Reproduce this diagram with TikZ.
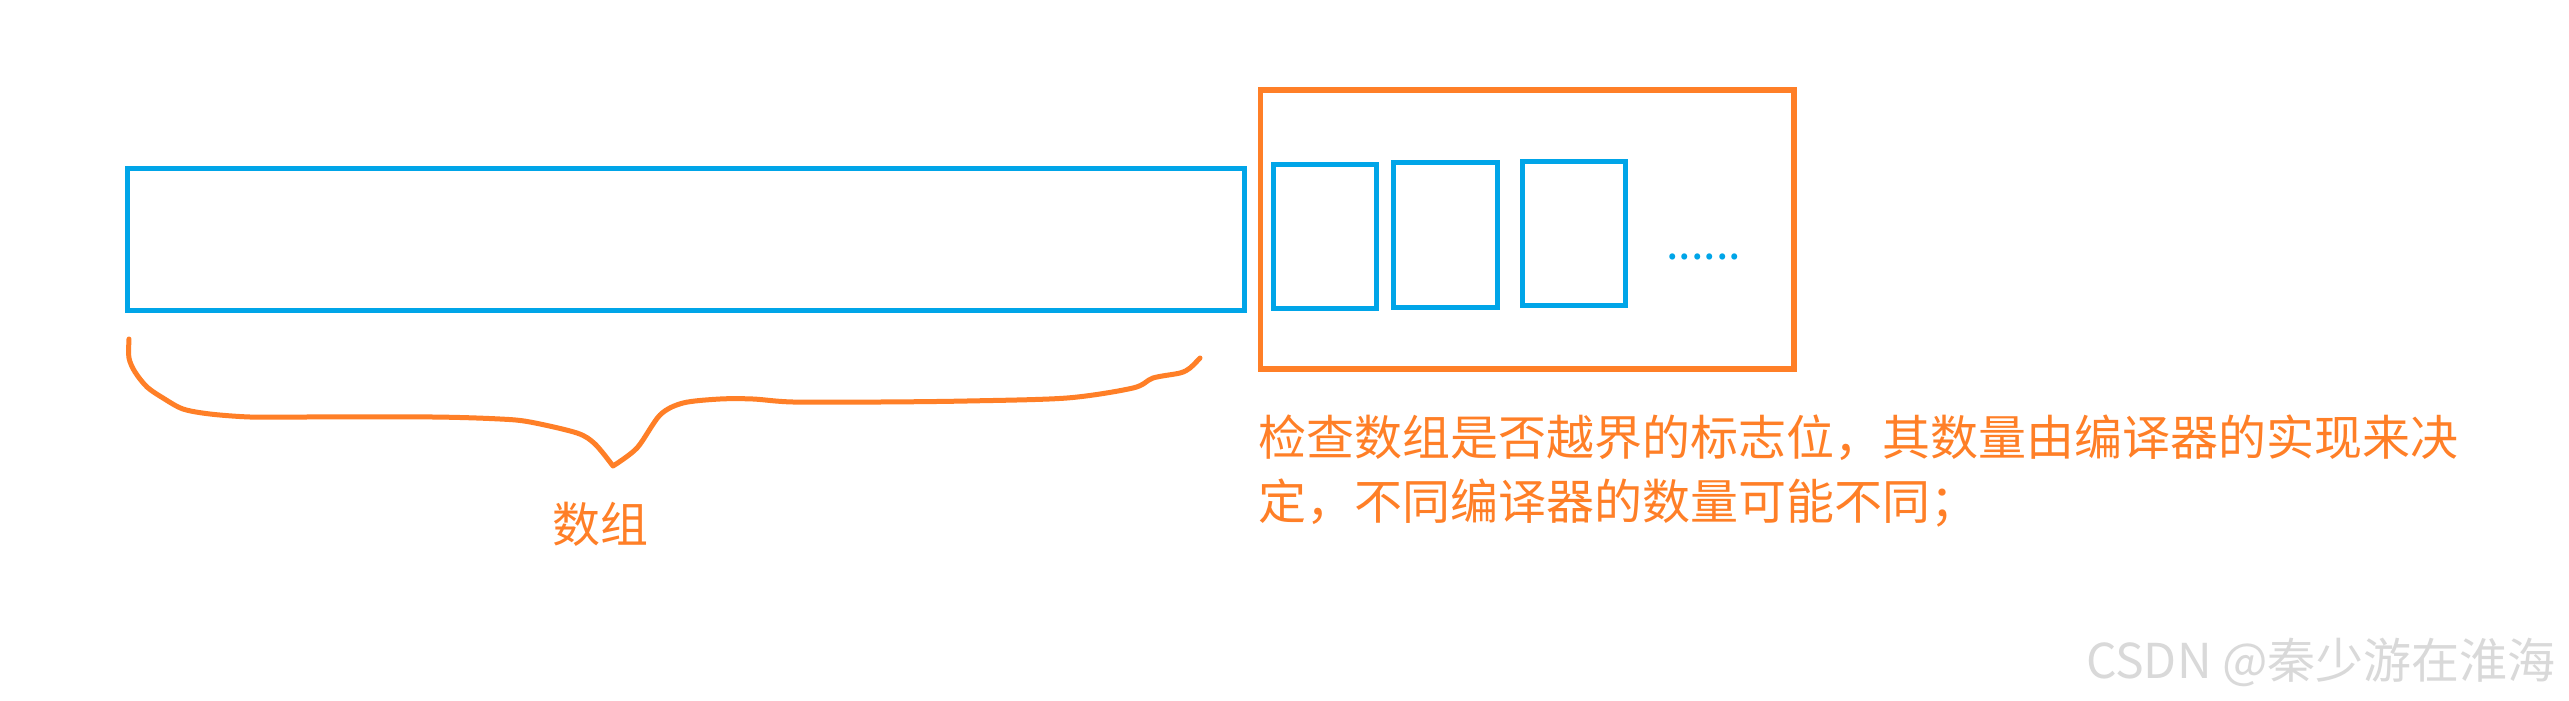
\documentclass[tikz,border=0pt]{standalone}
\usepackage{fontspec}
\usepackage{xcolor}
\newfontfamily\cjk{Noto Sans CJK SC}
\definecolor{cellblue}{HTML}{00A5E8}
\definecolor{markorange}{HTML}{FF7F27}
\usetikzlibrary{positioning}

\tikzset{
  cellbox/.style={rectangle,draw=cellblue,line width=5pt,inner sep=0pt},
  flagbox/.style={rectangle,draw=markorange,line width=5.5pt,inner sep=0pt},
  bracepen/.style={draw=markorange,line width=5pt,line cap=round,line join=round},
  note/.style={text=markorange,inner sep=0pt,align=left,font={\cjk\fontsize{48}{64}\selectfont}}
}

\begin{document}
\begin{tikzpicture}[x=1pt,y=-1pt]
\useasboundingbox[fill=white] (0,0) rectangle (2569,701);
    % Array and guard cells
\node[cellbox,minimum width=1117pt,minimum height=142pt] (array) at (686,239.5) {};
\node[flagbox,minimum width=533.5pt,minimum height=279pt] (guard) at (1527.25,229.5) {};
\node[cellbox,minimum width=103pt,minimum height=144pt] (cellA) at (1325,236.5) {};
\node[cellbox,minimum width=103.5pt,minimum height=145pt] (cellB) at (1445.25,235) {};
\node[cellbox,minimum width=103pt,minimum height=144pt] (cellC) at (1573.5,233) {};
\node[note,text=cellblue,anchor=base west,font={\cjk\fontsize{45}{50}\selectfont}] (more) at (1666,259) {......};
    % Brace under the array
\draw[bracepen] plot[smooth] coordinates {(129,339) (129,358) (135,372) (147,387) (163,398) (183,409) (210,414) (250,417) (300,417) (433,417) (500,419) (530,422) (577,433) (595,444) (613,466)}
  -- plot[smooth] coordinates {(613,466) (637,448) (660,415) (683,403) (720,399) (753,399) (793,402) (880,402) (967,401) (1067,398) (1133,388) (1153,378) (1180,373) (1190,368) (1200,358)};
\node[note,anchor=center] (arraylabel) at (600,524.5) {数组};
    % Explanation
\node[note,anchor=base west] (guardtext) at (1258,519) {检查数组是否越界的标志位，其数量由编译器的实现来决\\定，不同编译器的数量可能不同；};
\node[inner sep=0pt,anchor=base east,text=gray!30,font={\cjk\fontsize{48}{56}\selectfont}] (mark) at (2556,678) {CSDN @秦少游在淮海};
\end{tikzpicture}
\end{document}
